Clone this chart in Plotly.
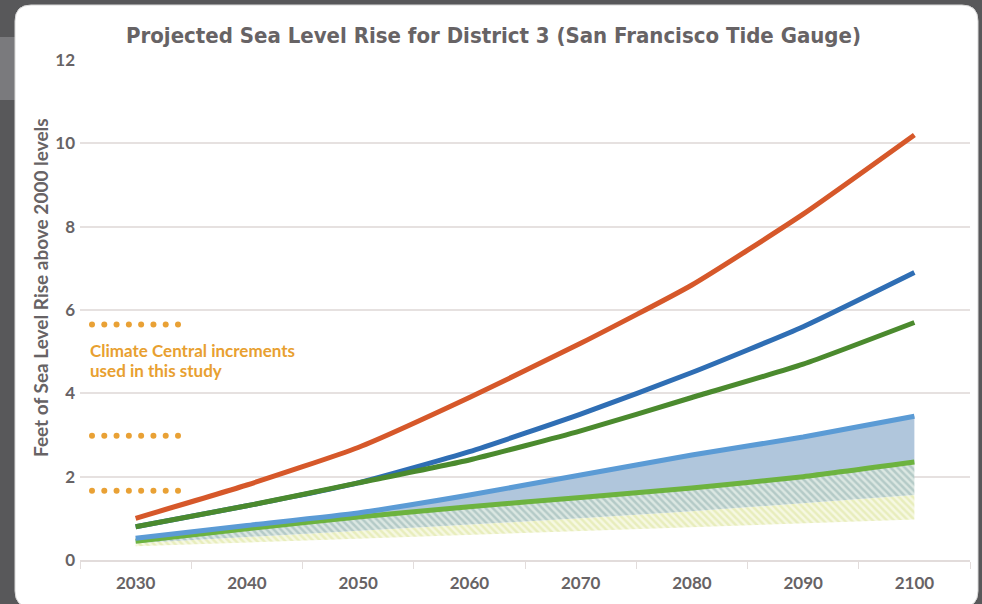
import numpy as np
import plotly.graph_objects as go

# ---------------- data ----------------
years = [2030, 2040, 2050, 2060, 2070, 2080, 2090, 2100]
high_orange = [1.0, 1.8, 2.7, 3.9, 5.2, 6.6, 8.3, 10.2]
upper_blue = [0.8, 1.3, 1.85, 2.6, 3.5, 4.5, 5.6, 6.9]
upper_green = [0.8, 1.3, 1.85, 2.4, 3.1, 3.9, 4.7, 5.7]
mid_blue = [0.52, 0.83, 1.13, 1.56, 2.04, 2.52, 2.95, 3.45]
mid_green = [0.45, 0.75, 1.03, 1.28, 1.5, 1.73, 2.0, 2.35]
low_mid = [0.4, 0.55, 0.7, 0.85, 1.0, 1.17, 1.36, 1.56]
low_bottom = [0.33, 0.42, 0.51, 0.6, 0.69, 0.78, 0.87, 0.97]
increments = [5.65, 2.98, 1.66]
x_tick_vals = [2030, 2040, 2050, 2060, 2070, 2080, 2090, 2100]
x_tick_text = ["2030", "2040", "2050", "2060", "2070", "2080", "2090", "2100"]
y_tick_vals = [0, 2, 4, 6, 8, 10, 12]

title_text = "Projected Sea Level Rise for District 3 (San Francisco Tide Gauge)"
ytitle_text = "Feet of Sea Level Rise above 2000 levels"
note_lines = ["Climate Central increments", "used in this study"]

# ---------------- geometry ----------------
W, H = 982, 604
L, R, T, B = 80, 12, 60, 44
pw, ph = W - L - R, H - T - B

def px(x):
    return (x - L) / pw

def py(y):
    return (H - B - y) / ph

GRAY = "#676365"
ORANGE_TXT = "#e8a030"

fig = go.Figure()

# bottom of hatched yellow band
fig.add_trace(go.Scatter(x=years, y=low_bottom, mode="lines", line=dict(width=0, color="rgba(0,0,0,0)"),
                         hoverinfo="skip", showlegend=False))
fig.add_trace(go.Scatter(x=years, y=low_mid, mode="lines", line=dict(width=0, color="rgba(0,0,0,0)"),
                         fill="tonexty", fillcolor="rgba(0,0,0,0)",
                         fillpattern=dict(shape="\\", fgcolor="#d9e296", bgcolor="#f6f8e2", size=5, solidity=0.5),
                         hoverinfo="skip", showlegend=False))
fig.add_trace(go.Scatter(x=years, y=mid_green, mode="lines", line=dict(width=0, color="rgba(0,0,0,0)"),
                         fill="tonexty", fillcolor="rgba(0,0,0,0)",
                         fillpattern=dict(shape="\\", fgcolor="#8eaeac", bgcolor="#dbe7e2", size=5, solidity=0.5),
                         hoverinfo="skip", showlegend=False))
fig.add_trace(go.Scatter(x=years, y=mid_blue, mode="lines", line=dict(width=0, color="rgba(0,0,0,0)"),
                         fill="tonexty", fillcolor="#b0c6dc",
                         hoverinfo="skip", showlegend=False))

# lines
def add_line(vals, color, width=5):
    fig.add_trace(go.Scatter(x=years, y=vals, mode="lines",
                             line=dict(color=color, width=width, shape="spline", smoothing=0.5),
                             hoverinfo="skip", showlegend=False))

add_line(mid_green, "#6db33f")
add_line(mid_blue, "#5b9bd5")
add_line(upper_blue, "#2f6eb4")
add_line(upper_green, "#4b8a2e")
add_line(high_orange, "#d6582a")

# increment dot rows
dot_x = list(np.linspace(2025 + 12 / pw * 80, 2025 + 98 / pw * 80, 8))
for lvl in increments:
    fig.add_trace(go.Scatter(x=dot_x, y=[lvl] * len(dot_x), mode="markers",
                             marker=dict(size=6, color="#e9a135"), hoverinfo="skip", showlegend=False))

# background decoration
shapes = [
    dict(type="rect", xref="paper", yref="paper", x0=px(0), x1=px(15), y0=py(100), y1=py(37),
         fillcolor="#7a7a7d", line=dict(width=0), layer="below"),
]
x0c, x1c, y0c, y1c, r = 15, 978, 5, 607, 16
path = (f"M {px(x0c + r)},{py(y0c)} L {px(x1c - r)},{py(y0c)} "
        f"Q {px(x1c)},{py(y0c)} {px(x1c)},{py(y0c + r)} "
        f"L {px(x1c)},{py(y1c - r)} Q {px(x1c)},{py(y1c)} {px(x1c - r)},{py(y1c)} "
        f"L {px(x0c + r)},{py(y1c)} Q {px(x0c)},{py(y1c)} {px(x0c)},{py(y1c - r)} "
        f"L {px(x0c)},{py(y0c + r)} Q {px(x0c)},{py(y0c)} {px(x0c + r)},{py(y0c)} Z")
shapes.append(dict(type="path", xref="paper", yref="paper", path=path, fillcolor="white",
                   line=dict(color="#d8d8d8", width=1), layer="below"))

annotations = [
    dict(text=title_text, xref="paper", yref="paper", x=px(493), y=py(36), showarrow=False,
         xanchor="center", yanchor="middle",
         font=dict(family="DejaVu Sans Condensed, Liberation Sans Narrow, Roboto", size=22, color=GRAY, weight="bold")),
    dict(text=ytitle_text, xref="paper", yref="paper", x=px(40), y=py(288), showarrow=False,
         textangle=-90, xanchor="center", yanchor="middle",
         font=dict(family="Lato", size=19, color=GRAY, weight="bold")),
    dict(text=note_lines[0], xref="paper", yref="paper", x=px(88), y=py(350), showarrow=False,
         xanchor="left", yanchor="middle", align="left",
         font=dict(family="Lato", size=17, color=ORANGE_TXT, weight="bold")),
    dict(text=note_lines[1], xref="paper", yref="paper", x=px(88), y=py(370), showarrow=False,
         xanchor="left", yanchor="middle", align="left",
         font=dict(family="Lato", size=17, color=ORANGE_TXT, weight="bold")),
]

fig.update_layout(
    width=W, height=H,
    margin=dict(l=L, r=R, t=T, b=B),
    paper_bgcolor="#58585a",
    plot_bgcolor="rgba(0,0,0,0)",
    shapes=shapes,
    annotations=annotations,
    showlegend=False,
    xaxis=dict(range=[2025, 2105], tickvals=x_tick_vals, ticktext=x_tick_text, showgrid=False,
               ticks="", showline=True, linecolor="#e2dcdb", linewidth=2, zeroline=False,
               tickfont=dict(family="Lato", size=17, color=GRAY, weight="bold"),
               minor=dict(tick0=2025, dtick=10, ticks="outside", ticklen=7, tickcolor="#e2dcdb", tickwidth=1),
               ticklabelstandoff=7),
    yaxis=dict(range=[0, 12], tickvals=y_tick_vals, showgrid=True, gridcolor="#e6e1e0", gridwidth=2,
               zeroline=False, ticks="", showline=False,
               tickfont=dict(family="Lato", size=17, color=GRAY, weight="bold"),
               ticklabelstandoff=4),
)

fig.write_html("out.html", config={"displayModeBar": False},
               post_script="document.body.style.margin='0px';document.body.style.overflow='hidden';")
